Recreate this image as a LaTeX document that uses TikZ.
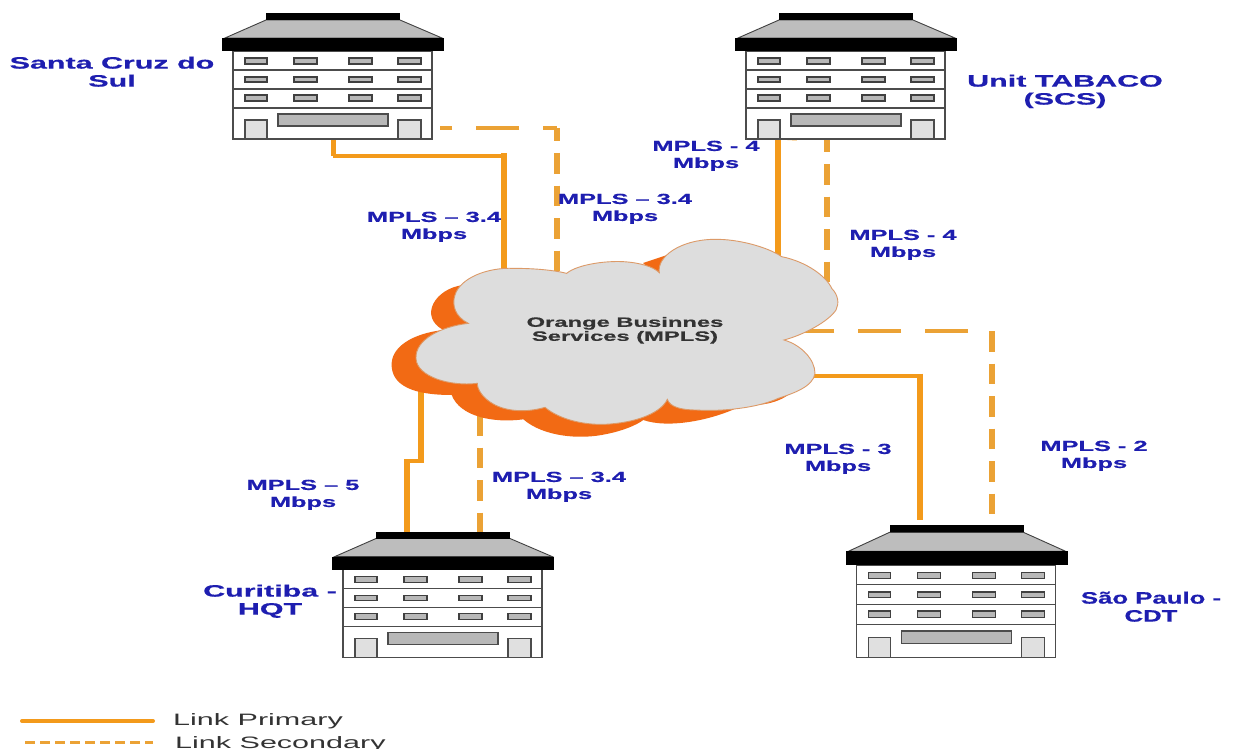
\documentclass[tikz,border=0pt]{standalone}
\usepackage{fontspec}
\usepackage{graphicx}
\setmainfont[BoldFeatures={FakeBold=0.5}]{Liberation Sans}
\definecolor{lblue}{HTML}{1E1EB0}
\definecolor{prim}{HTML}{F39A1B}
\definecolor{seco}{HTML}{EBA235}
\definecolor{cloudo}{HTML}{F26A14}
\definecolor{cloudg}{HTML}{DDDDDD}
\definecolor{cloude}{HTML}{DC9A68}
\definecolor{roofg}{HTML}{BDBDBD}
\definecolor{wing}{HTML}{B8B8B8}
\definecolor{doorg}{HTML}{E0E0E0}
\newcommand\wtext[2]{\scalebox{#1}[1]{\begin{tabular}{@{}c@{}}#2\end{tabular}}}
\newcommand\bldg[4]{%
\begin{scope}[shift={(#1,#2)},yscale=#3]
\coordinate (#4) at (111,0);
\fill[roofg,draw=black!75,line width=.9pt] (44,7) -- (178,7) -- (220,25) -- (3,25) -- cycle;
\fill[black] (44,0) rectangle (178,7);
\fill[white,draw=black!70,line width=1.5pt] (11,38) rectangle (210,126);
\fill[black] (0,25) rectangle (222,38);
\foreach \yy in {57,76,95} \draw[black!70,line width=1.2pt] (11,\yy) -- (210,\yy);
\foreach \xa/\xb in {23/45,72/95,127/150,176/199}{
 \foreach \ya/\yb in {45/51,64/69,82/88}
  \filldraw[fill=wing,draw=black!75,line width=1.5pt] (\xa,\ya) rectangle (\xb,\yb);
 }
\filldraw[fill=wing,draw=black!70,line width=1.6pt] (56,101) rectangle (166,113);
\filldraw[fill=doorg,draw=black!70,line width=1.5pt] (23,107) -- (45,107) -- (45,126) -- (23,126) -- cycle;
\filldraw[fill=doorg,draw=black!70,line width=1.5pt] (176,107) -- (199,107) -- (199,126) -- (176,126) -- cycle;
\end{scope}}
\tikzset{
 lab/.style={text=lblue,font=\fontsize{14.5}{17}\selectfont\bfseries,inner sep=0pt},
 bigl/.style={text=lblue,font=\fontsize{16.5}{18}\selectfont\bfseries,inner sep=0pt},
 pv/.style={draw=prim,line width=6.5pt},
 ph/.style={draw=prim,line width=4pt},
 sv/.style={draw=seco,line width=5.5pt,dash pattern=on 20.5pt off 12pt},
 sh/.style={draw=seco,line width=3.2pt,dash pattern=on 43pt off 24pt},
}
\begin{document}
\begin{tikzpicture}[x=1pt,y=-1pt]
\useasboundingbox (0,0) rectangle (1258,749);
\fill[white] (0,0) rectangle (1258,749);
% connector ends
\coordinate (a1) at (333,137); \coordinate (a2) at (333,156); \coordinate (a3) at (504,156); \coordinate (a4) at (504,275);
\coordinate (b1) at (557,128); \coordinate (b2) at (440,128); \coordinate (b3) at (557,275);
\coordinate (c1) at (778,138); \coordinate (c2) at (778,262); \coordinate (c3) at (797,139);
\coordinate (d1) at (827,138); \coordinate (d2) at (827,290); \coordinate (d3) at (845,138);
\coordinate (e1) at (992,331); \coordinate (e2) at (795,331); \coordinate (e3) at (992,515);
\coordinate (f1) at (805,375.5); \coordinate (f2) at (920,375.5); \coordinate (f3) at (920,520);
\coordinate (g1) at (421,385); \coordinate (g2) at (421,461); \coordinate (g3) at (407,461); \coordinate (g4) at (407,532);
\coordinate (h1) at (480,415); \coordinate (h2) at (480,532);
% connectors
\draw[ph,line width=5pt] (a1) -- (a2);
\draw[ph] (a2) -- (a3);
\draw[pv] (504,153.5) -- (a4);
\draw[sh,dash phase=29pt] (b1) -- (b2);
\draw[sv,dash phase=7.5pt] (b1) -- (b3);
\draw[pv] (c1) -- (c2);
\draw[ph,line width=3pt] (c1) -- (c3);
\draw[sv,dash phase=6.5pt] (d1) -- (d2);
\draw[ph,draw=seco,line width=2pt] (d1) -- (d3);
\draw[sh,dash phase=43pt] (e1) -- (e2);
\draw[sv] (992,331) -- (e3);
\draw[ph] (f1) -- (f2);
\draw[pv] (920,373.5) -- (f3);
\draw[pv,line width=6pt] (g1) -- (421,463);
\draw[ph] (g2) -- (g3);
\draw[pv] (407,459) -- (g4);
\draw[sv] (h1) -- (h2);
% cloud
\begin{scope}[shift={(380,230)},scale=0.33333]
\fill[cloudo] (250,165) .. controls (165,175) and (115,260) .. (190,300)
 .. controls (100,310) and (30,350) .. (35,410)
 .. controls (40,480) and (130,495) .. (215,495)
 .. controls (240,560) and (340,580) .. (430,568)
 .. controls (490,620) and (600,630) .. (680,612)
 .. controls (730,602) and (770,585) .. (790,570)
 .. controls (860,595) and (990,575) .. (1090,525)
 .. controls (1170,530) and (1220,505) .. (1240,480)
 -- (800,300) -- cycle;
\fill[cloudo] (789,99) -- (861,75) -- (834,140) -- cycle;
\filldraw[fill=cloudg,draw=cloude,line width=.9pt]
 (265,280) .. controls (225,260) and (215,225) .. (225,195)
 .. controls (240,145) and (320,112) .. (400,115)
 .. controls (460,115) and (520,120) .. (560,130)
 .. controls (590,105) and (670,92) .. (730,95)
 .. controls (780,98) and (820,110) .. (838,128)
 .. controls (830,80) and (900,30) .. (1000,28)
 .. controls (1080,26) and (1170,55) .. (1205,80)
 .. controls (1280,95) and (1340,140) .. (1355,175)
 .. controls (1375,195) and (1378,220) .. (1368,240)
 .. controls (1345,275) and (1270,315) .. (1212,330)
 .. controls (1265,345) and (1305,390) .. (1305,430)
 .. controls (1300,470) and (1240,490) .. (1195,505)
 .. controls (1130,535) and (1020,545) .. (950,540)
 .. controls (900,540) and (870,530) .. (862,508)
 .. controls (845,545) and (780,575) .. (690,582)
 .. controls (620,588) and (540,570) .. (495,532)
 .. controls (440,548) and (380,545) .. (340,522)
 .. controls (310,505) and (292,480) .. (292,460)
 .. controls (210,470) and (110,440) .. (108,385)
 .. controls (105,330) and (180,290) .. (265,280) -- cycle;
\end{scope}
\node[inner sep=0pt,text=black!80,font=\fontsize{13.5}{14}\selectfont\bfseries] (cloud) at (625,331) {\wtext{1.76}{Orange Businnes\\Services (MPLS)}};
% buildings
\bldg{222}{13}{1}{bA}
\bldg{735}{13}{1}{bB}
\bldg{332}{531.5}{1}{bC}
\bldg{845.5}{525}{1.05}{bD}
% labels
\node[bigl] (tA) at (112,74) {\wtext{1.845}{Santa Cruz do\\Sul}};
\node[bigl] (tB) at (1065,92) {\wtext{1.845}{Unit TABACO\\(SCS)}};
\node[bigl] (tC) at (270,602) {\wtext{1.845}{Curitiba -\\HQT}};
\node[bigl] (tD) at (1151,609) {\wtext{1.56}{São Paulo -\\CDT}};
\node[lab] (l1) at (434,227) {\wtext{1.75}{MPLS – 3.4\\Mbps}};
\node[lab] (l2) at (625,209) {\wtext{1.75}{MPLS – 3.4\\Mbps}};
\node[lab] (l3) at (706,156) {\wtext{1.75}{MPLS - 4\\Mbps}};
\node[lab] (l4) at (903,245) {\wtext{1.75}{MPLS - 4\\Mbps}};
\node[lab] (l5) at (303,495) {\wtext{1.75}{MPLS – 5\\Mbps}};
\node[lab] (l6) at (559,487) {\wtext{1.75}{MPLS – 3.4\\Mbps}};
\node[lab] (l7) at (838,459) {\wtext{1.75}{MPLS - 3\\Mbps}};
\node[lab] (l8) at (1094,456) {\wtext{1.75}{MPLS - 2\\Mbps}};
% legend
\coordinate (k1) at (22,721); \coordinate (k2) at (153,721);
\coordinate (m1) at (25,742); \coordinate (m2) at (153,742);
\draw[prim,line width=4pt,line cap=round] (k1) -- (k2);
\draw[seco,line width=3pt,dash pattern=on 10pt off 5pt] (m1) -- (m2);
\node[anchor=base west,inner sep=0pt,text=black!80,font=\fontsize{16.5}{18}\selectfont] (n1) at (173,725) {\scalebox{1.85}[1]{Link Primary}};
\node[anchor=base west,inner sep=0pt,text=black!80,font=\fontsize{16.5}{18}\selectfont] (n2) at (175,748) {\scalebox{1.85}[1]{Link Secondary}};
\end{tikzpicture}
\end{document}
